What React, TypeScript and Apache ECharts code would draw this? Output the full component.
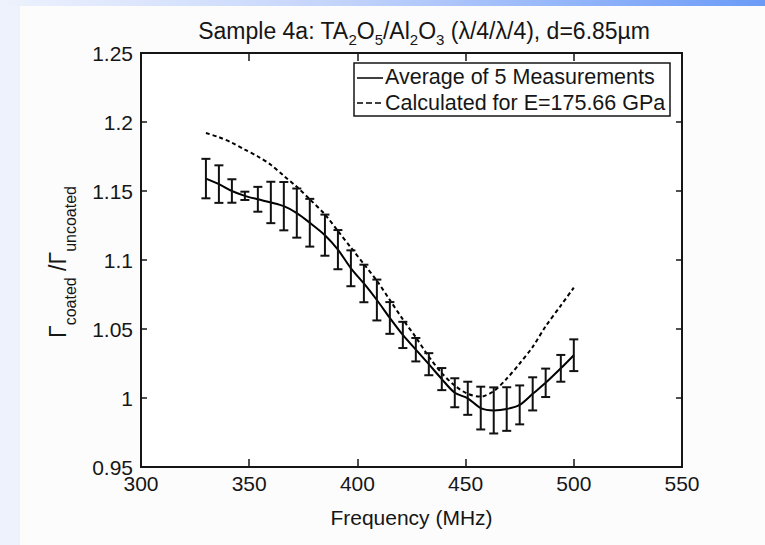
import React, { useEffect, useRef } from "react";
import * as echarts from "echarts";

// ---- data ----
const freqs = [330, 336, 342, 348, 354, 360, 366, 372, 378, 385, 391, 397, 403, 409, 415, 421, 427, 433, 439, 445, 451, 457, 463, 469, 475, 481, 487, 494, 500];
const measuredMean = [1.159, 1.155, 1.15, 1.1465, 1.144, 1.1417, 1.139, 1.134, 1.127, 1.118, 1.1075, 1.094, 1.083, 1.071, 1.058, 1.0457, 1.035, 1.0245, 1.0137, 1.0038, 0.9998, 0.9927, 0.991, 0.992, 0.995, 1.003, 1.011, 1.0215, 1.031];
const measuredErr = [0.0143, 0.0136, 0.0085, 0.003, 0.009, 0.015, 0.0175, 0.0178, 0.0173, 0.0149, 0.0142, 0.013, 0.0136, 0.0148, 0.0115, 0.0095, 0.0085, 0.008, 0.008, 0.0105, 0.012, 0.0155, 0.0167, 0.0158, 0.0141, 0.012, 0.0103, 0.0097, 0.0115];
const calculated = [1.192, 1.189, 1.185, 1.18, 1.175, 1.169, 1.161, 1.153, 1.144, 1.133, 1.121, 1.109, 1.097, 1.085, 1.071, 1.057, 1.044, 1.03, 1.018, 1.009, 1.003, 1.001, 1.005, 1.014, 1.025, 1.037, 1.052, 1.067, 1.08];
const xTickLabels = ["300", "350", "400", "450", "500", "550"];
const yTickLabels = ["0.95", "1", "1.05", "1.1", "1.15", "1.2", "1.25"];
const seriesNames = ["Average of 5 Measurements", "Calculated for E=175.66 GPa"];
const titleText = "Sample 4a: TA{s|2}O{s|5}/Al{s|2}O{s|3} (λ/4/λ/4), d=6.85µm";
const xName = "Frequency (MHz)";
const yNameRich = "{g|Γ}{s|coated}{g| /Γ}{s|uncoated}";

const FONT = '"Liberation Sans", Arial, Helvetica, sans-serif';
const INK = "#161616";

export default function App() {
  const ref = useRef<HTMLDivElement>(null);
  useEffect(() => {
    if (!ref.current) return;
    const chart = echarts.init(ref.current, null, { renderer: "svg" });
    const xMin = Number(xTickLabels[0]);
    const xMax = Number(xTickLabels[xTickLabels.length - 1]);
    const xInt = Number(xTickLabels[1]) - xMin;
    const yMin = Number(yTickLabels[0]);
    const yMax = Number(yTickLabels[yTickLabels.length - 1]);
    const yInt = 0.05;
    const fmtY = (v: number) => {
      const idx = Math.round((v - yMin) / yInt);
      return yTickLabels[idx] ?? String(v);
    };
    const tickStyle = { color: INK, width: 1.5 };
    const errData = freqs.map((f, i) => [f, measuredMean[i] - measuredErr[i], measuredMean[i] + measuredErr[i]]);

    const option: any = {
      animation: false,
      backgroundColor: "transparent",
      grid: {
        left: 141, top: 53, width: 541, height: 414,
        show: true, borderColor: INK, borderWidth: 2, backgroundColor: "#ffffff",
      },
      xAxis: [
        {
          type: "value", min: xMin, max: xMax, interval: xInt, position: "bottom",
          axisLine: { show: false },
          axisTick: { inside: true, length: 8, lineStyle: tickStyle },
          axisLabel: { color: INK, fontSize: 21, lineHeight: 16, fontFamily: FONT, margin: 8, formatter: (v: number) => String(v) },
          splitLine: { show: false },
          name: xName, nameLocation: "middle", nameGap: 40,
          nameTextStyle: { color: INK, fontSize: 21, fontFamily: FONT },
        },
        {
          type: "value", min: xMin, max: xMax, interval: xInt, position: "top",
          axisLine: { show: false },
          axisTick: { inside: true, length: 8, lineStyle: tickStyle },
          axisLabel: { show: false }, splitLine: { show: false },
        },
      ],
      yAxis: [
        {
          type: "value", min: yMin, max: yMax, interval: yInt, position: "left",
          axisLine: { show: false },
          axisTick: { inside: true, length: 6, lineStyle: tickStyle },
          axisLabel: { color: INK, fontSize: 21, lineHeight: 16, fontFamily: FONT, margin: 8, padding: [0, 0, 5, 0], formatter: fmtY },
          splitLine: { show: false },
        },
        {
          type: "value", min: yMin, max: yMax, interval: yInt, position: "right",
          axisLine: { show: false },
          axisTick: { inside: true, length: 6, lineStyle: tickStyle },
          axisLabel: { show: false }, splitLine: { show: false },
        },
      ],
      series: [
        {
          name: seriesNames[1], type: "line", xAxisIndex: 0, yAxisIndex: 0,
          data: freqs.map((f, i) => [f, calculated[i]]),
          showSymbol: false, symbol: "none", smooth: 0.3,
          lineStyle: { color: "#000", width: 2, type: [4, 3] }, z: 2,
        },
        {
          name: seriesNames[0], type: "line", xAxisIndex: 0, yAxisIndex: 0,
          data: freqs.map((f, i) => [f, measuredMean[i]]),
          showSymbol: false, symbol: "none", smooth: 0.3,
          lineStyle: { color: "#000", width: 2 }, z: 3,
        },
        {
          type: "custom", xAxisIndex: 0, yAxisIndex: 0,
          data: errData,
          encode: { x: 0, y: [1, 2] },
          z: 4,
          renderItem: (params: any, api: any) => {
            const x = api.value(0);
            const lo = api.coord([x, api.value(1)]);
            const hi = api.coord([x, api.value(2)]);
            const hw = 4.5;
            const style = { stroke: "#111", lineWidth: 2, fill: null };
            return {
              type: "group",
              children: [
                { type: "line", shape: { x1: lo[0], y1: lo[1], x2: hi[0], y2: hi[1] }, style },
                { type: "line", shape: { x1: lo[0] - hw, y1: lo[1], x2: lo[0] + hw, y2: lo[1] }, style },
                { type: "line", shape: { x1: hi[0] - hw, y1: hi[1], x2: hi[0] + hw, y2: hi[1] }, style },
              ],
            };
          },
        },
      ],
      graphic: [
        {
          type: "text", x: 424, y: 31, z: 10,
          style: {
            text: titleText,
            fontSize: 23, fontFamily: FONT, fill: INK,
            align: "center", verticalAlign: "middle",
            rich: { s: { fontSize: 15, fontFamily: FONT, fill: INK, padding: [16, 0, 0, 0] } },
          },
        },
        {
          type: "text", x: 58, y: 262, rotation: Math.PI / 2, z: 10,
          style: {
            text: yNameRich,
            fontSize: 23, fontFamily: FONT, fill: INK,
            align: "center", verticalAlign: "middle",
            rich: {
              g: { fontSize: 23, fontFamily: FONT, fill: INK },
              s: { fontSize: 16, fontFamily: FONT, fill: INK, padding: [24, 0, 0, 0] },
            },
          },
        },
        {
          type: "group", z: 20,
          children: [
            { type: "rect", shape: { x: 354, y: 63, width: 316, height: 53 }, style: { fill: "#fff", stroke: INK, lineWidth: 1.5 } },
            { type: "line", shape: { x1: 357, y1: 78, x2: 383, y2: 78 }, style: { stroke: "#000", lineWidth: 1.5 } },
            { type: "line", shape: { x1: 357, y1: 103, x2: 383, y2: 103 }, style: { stroke: "#000", lineWidth: 1.5, lineDash: [6, 3] } },
            { type: "text", x: 385, y: 77, style: { text: seriesNames[0], fontSize: 21.5, fontFamily: FONT, fill: INK, verticalAlign: "middle" } },
            { type: "text", x: 385, y: 103, style: { text: seriesNames[1], fontSize: 21.5, fontFamily: FONT, fill: INK, verticalAlign: "middle" } },
          ],
        },
      ],
    };
    chart.setOption(option);
    return () => chart.dispose();
  }, []);

  const bg =
    "linear-gradient(to right, #eef2fd 0%, #c2d3fb 45%, #6b9bf7 100%) 0 0 / 100% 6px no-repeat, " +
    "linear-gradient(#eef2fd, #eef2fd) 0 0 / 20px 100% no-repeat, #fcfcfc";
  return (
    <div style={{ position: "absolute", left: 0, top: 0, width: 765, height: 545, background: bg }}>
      <div ref={ref} style={{ width: 765, height: 545 }} />
    </div>
  );
}
